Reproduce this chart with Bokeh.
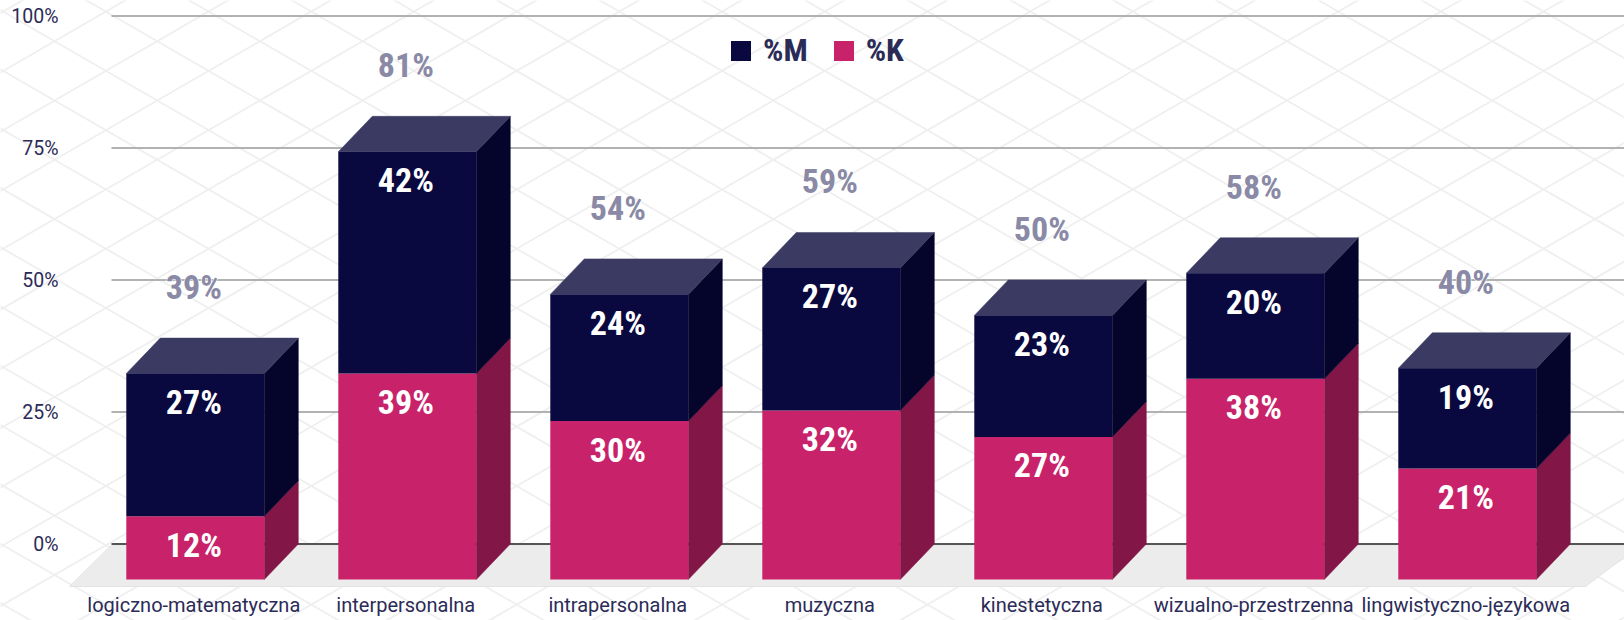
import numpy as np
from bokeh.core.properties import value
from bokeh.embed import file_html
from bokeh.models import FixedTicker, Legend, LegendItem, Range1d
from bokeh.plotting import figure
from bokeh.resources import INLINE

categories = ["logiczno-matematyczna", "interpersonalna", "intrapersonalna", "muzyczna",
              "kinestetyczna", "wizualno-przestrzenna", "lingwistyczno-językowa"]
pct_k = [12, 39, 30, 32, 27, 38, 21]
pct_m = [27, 42, 24, 27, 23, 20, 19]
pct_total = [39, 81, 54, 59, 50, 58, 40]
y_ticks = [0, 25, 50, 75, 100]
y_tick_labels = ["0%", "25%", "50%", "75%", "100%"]

NAVY, NAVY_SIDE, NAVY_TOP = "#09083f", "#05052b", "#3b3a62"
PINK, PINK_SIDE = "#c8236a", "#821646"
INK = "#2b2b57"
HEAD = "Roboto Condensed"
BODY = "Roboto"

W, H = 1624, 620
PX_PER_CAT, PX_PER_PCT = 212.0, 5.28
X0_PAGE, Y0_PAGE = 194.8, 543.5
DX = 34 / PX_PER_CAT          # depth of the 3D box, x units
DY = 35.5 / PX_PER_PCT        # depth of the 3D box, percent units
HALF = 69 / PX_PER_CAT        # half of the front face
LABEL_NUDGE = 1.5 / PX_PER_CAT
GRID_X0 = (111 - X0_PAGE) / PX_PER_CAT
GRID_X1 = (W - X0_PAGE) / PX_PER_CAT

p = figure(width=W, height=H, output_backend="svg", toolbar_location=None,
           x_range=Range1d(-X0_PAGE / PX_PER_CAT, GRID_X1),
           y_range=Range1d((Y0_PAGE - H) / PX_PER_PCT, Y0_PAGE / PX_PER_PCT),
           min_border=0, min_border_left=0, min_border_right=0, min_border_top=0, min_border_bottom=0)
p.outline_line_color = None
p.background_fill_color = "white"
p.border_fill_color = "white"
p.extra_x_ranges["px"] = Range1d(0, W)
p.extra_y_ranges["px"] = Range1d(H, 0)
p.xgrid.visible = False
p.ygrid.visible = False

# decorative lattice behind the chart, in page pixels
PW, PH = 102.7, 59.3
xs, ys = [], []
for n in range(-12, 30):
    x = 54 + n * PW
    xs.append([x - 14 * PW, x + 14 * PW]); ys.append([40.7 - 14 * PH, 40.7 + 14 * PH])
    xs.append([x - 14 * PW, x + 14 * PW]); ys.append([40.7 + 14 * PH, 40.7 - 14 * PH])
p.multi_line(xs, ys, line_color="#efefef", line_width=1.8, x_range_name="px", y_range_name="px", level="underlay")

# floor
p.patch([111, 1640, 1585, 69], [544.5, 544.5, 586, 586], fill_color="#ececec", line_color="#e3e3e3",
        line_width=1, x_range_name="px", y_range_name="px", level="underlay")

# grid lines
upper = [t for t in y_ticks if t > 0]
p.segment([GRID_X0] * len(upper), upper, [GRID_X1] * len(upper), upper, line_color="#b2b2b2", line_width=2, level="underlay")
p.segment([GRID_X0], [0], [GRID_X1], [0], line_color="#555555", line_width=2, level="underlay")

# y axis
yaxis = p.yaxis[0]
yaxis.fixed_location = (60 - X0_PAGE) / PX_PER_CAT
yaxis.ticker = FixedTicker(ticks=y_ticks)
yaxis.major_label_overrides = dict(zip(y_ticks, y_tick_labels))
yaxis.axis_line_color = None
yaxis.major_tick_line_color = None
yaxis.minor_tick_line_color = None
yaxis.major_tick_in = 0
yaxis.major_tick_out = 0
yaxis.major_label_standoff = 2
yaxis.major_label_text_font = BODY
yaxis.major_label_text_font_size = "19.5px"
yaxis.major_label_text_color = INK

# x axis
idx = np.arange(len(categories))
x_ticks = [float(i) - LABEL_NUDGE for i in idx]
xaxis = p.xaxis[0]
xaxis.fixed_location = (Y0_PAGE - 590) / PX_PER_PCT
xaxis.ticker = FixedTicker(ticks=x_ticks)
xaxis.major_label_overrides = dict(zip(x_ticks, categories))
xaxis.axis_line_color = None
xaxis.major_tick_line_color = None
xaxis.minor_tick_line_color = None
xaxis.major_tick_in = 0
xaxis.major_tick_out = 0
xaxis.major_label_standoff = 2
xaxis.major_label_text_font = BODY
xaxis.major_label_text_font_size = "20px"
xaxis.major_label_text_color = INK

# bars: front plane is shifted down by the box depth
k = np.array(pct_k, float)
m = np.array(pct_m, float)
base = np.full(len(k), -DY)
k_top = k - DY
m_top = k + m - DY


def side(b, t):
    sx = [[i + HALF, i + HALF + DX, i + HALF + DX, i + HALF] for i in idx]
    sy = [[bb, bb + DY, tt + DY, tt] for bb, tt in zip(b, t)]
    return sx, sy


sx, sy = side(base, k_top)
p.patches(sx, sy, fill_color=PINK_SIDE, line_color=PINK_SIDE, line_width=0.5)
sx, sy = side(k_top, m_top)
p.patches(sx, sy, fill_color=NAVY_SIDE, line_color=NAVY_SIDE, line_width=0.5)
p.patches([[i - HALF, i + HALF, i + HALF + DX, i - HALF + DX] for i in idx],
          [[t, t, t + DY, t + DY] for t in m_top], fill_color=NAVY_TOP, line_color=NAVY_TOP, line_width=0.5)
r_k = p.vbar(x=idx, width=2 * HALF, bottom=base, top=k_top, fill_color=PINK, line_color=None)
r_m = p.vbar(x=idx, width=2 * HALF, bottom=k_top, top=m_top, fill_color=NAVY, line_color=None)

# labels
font = value(HEAD)
style = dict(text_font=font, text_font_style="bold", text_font_size="34px", text_align="center",
             text_baseline="middle", x_offset=-1.5)
p.text(idx, k_top, text=[f"{v}%" for v in pct_k], text_color="white", y_offset=28.5, **style)
p.text(idx, m_top, text=[f"{v}%" for v in pct_m], text_color="white", y_offset=28.5, **style)
tot = [f"{v}%" for v in pct_total]
ty = np.array(pct_total, float) - DY
p.text(idx, ty, text=tot, text_color="white", text_outline_color="#ffffff", y_offset=-86.5, **style)
p.text(idx, ty, text=tot, text_color="#8a8aa6", y_offset=-86.5, **style)

legend = Legend(items=[LegendItem(label="%M", renderers=[r_m]), LegendItem(label="%K", renderers=[r_k])],
                orientation="horizontal", location=(728, H - 69), background_fill_alpha=0, border_line_alpha=0,
                glyph_width=25, glyph_height=25, spacing=23, label_standoff=10, margin=0, padding=0,
                label_text_font=HEAD, label_text_font_style="bold", label_text_font_size="32px",
                label_text_color=INK)
p.add_layout(legend, "center")

open("out.html", "w").write(file_html(p, INLINE))
